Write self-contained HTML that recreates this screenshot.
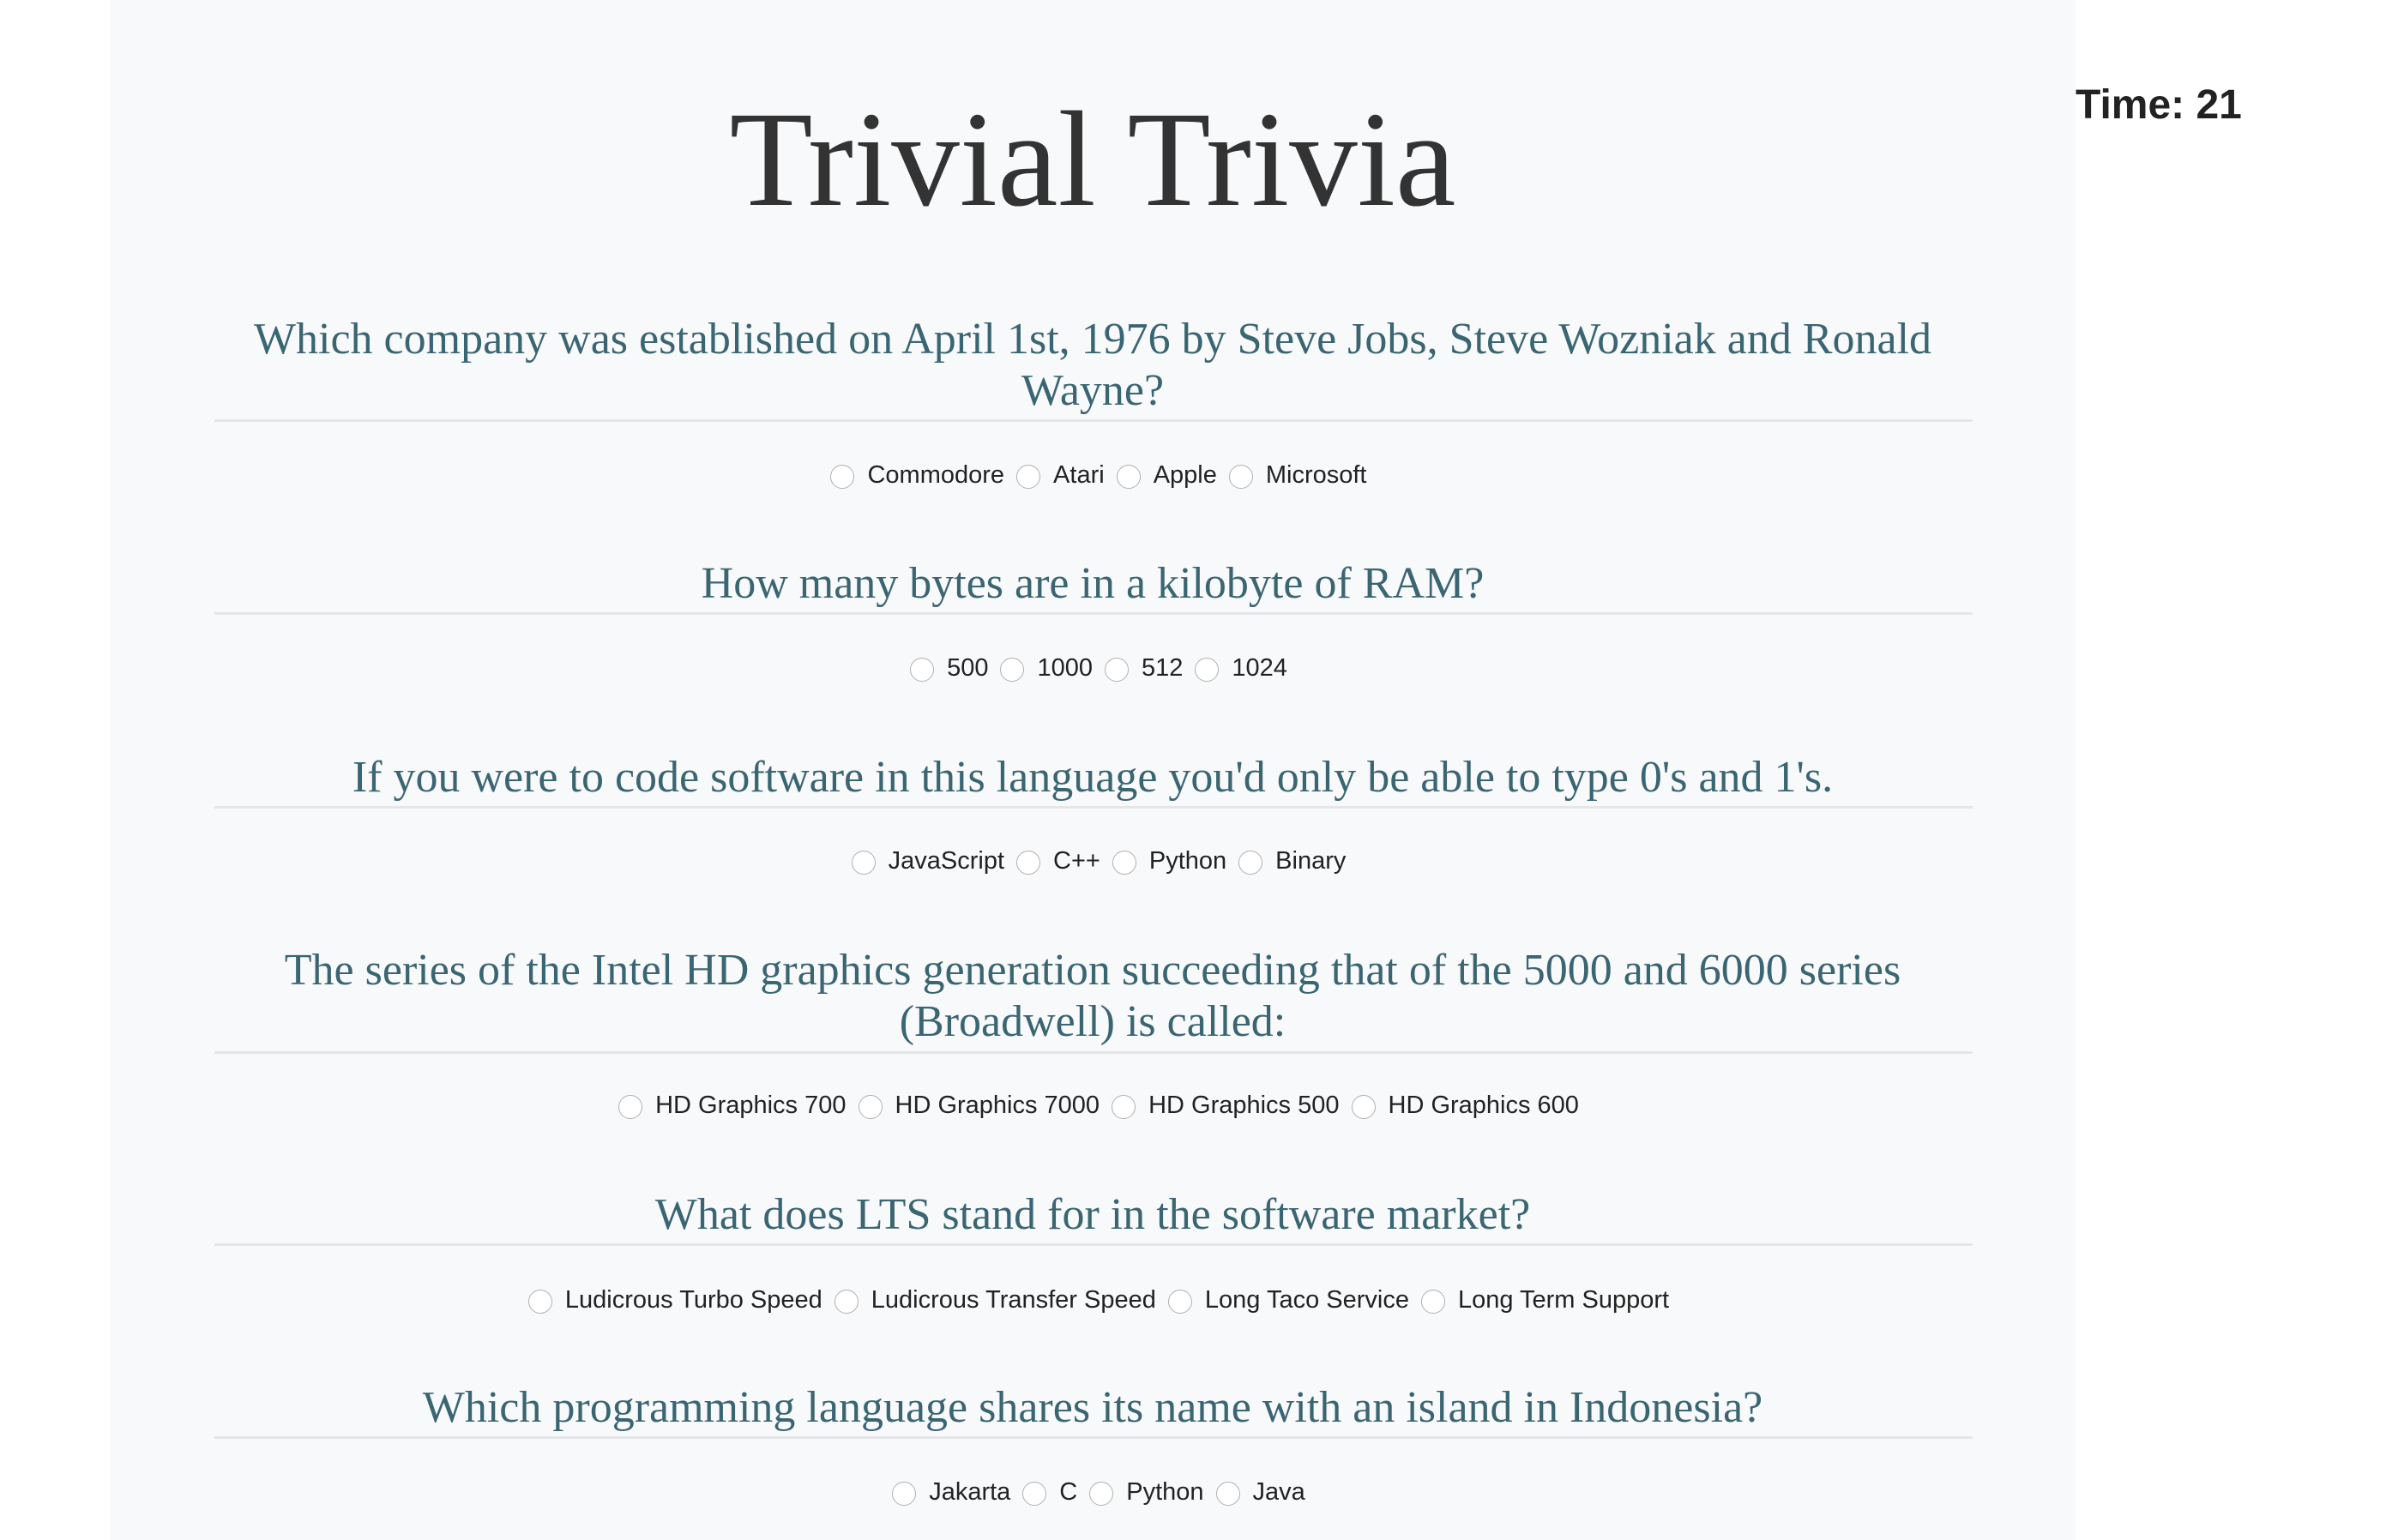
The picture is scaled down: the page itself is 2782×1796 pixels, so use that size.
<!DOCTYPE html>
<html><head><meta charset="utf-8"><style>
html,body{margin:0;padding:0;background:#fff;width:2782px;height:1796px;overflow:hidden;position:relative}
#wrap{position:absolute;left:128px;top:0;width:2292px;height:1796px;background:#f8f9fa}
.t{position:absolute;left:0;width:100%;text-align:center;white-space:nowrap}
#title{font-family:"Liberation Serif",serif;font-size:159px;color:#333;line-height:160px;top:106px}
.q{font-family:"Liberation Serif",serif;font-size:52px;color:#3a6572;line-height:60px}
.hr{position:absolute;left:122px;width:2050px;height:3px;background:#e4e6e8}
.opts{font-family:"Liberation Sans",sans-serif;font-size:29px;color:#222;line-height:40px}
.r{display:inline-block;width:28px;height:28px;border:1.5px solid #b0b0b0;border-radius:50%;background:#fff;vertical-align:-7px;margin:0 15px 0 14px;box-sizing:border-box}
#time{position:absolute;left:2420px;top:95px;font-family:"Liberation Sans",sans-serif;font-weight:bold;font-size:48px;color:#222;line-height:56px}
</style></head><body>
<div id="wrap">
<div class="t" id="title">Trivial Trivia</div>

<div class="t q" style="top:366px">Which company was established on April 1st, 1976 by Steve Jobs, Steve Wozniak and Ronald<br>Wayne?</div>
<div class="hr" style="top:489px"></div>
<div class="t opts" style="top:534px"><span class="r"></span>Commodore<span class="r"></span>Atari<span class="r"></span>Apple<span class="r"></span>Microsoft</div>

<div class="t q" style="top:651px">How many bytes are in a kilobyte of RAM?</div>
<div class="hr" style="top:714px"></div>
<div class="t opts" style="top:759px"><span class="r"></span>500<span class="r"></span>1000<span class="r"></span>512<span class="r"></span>1024</div>

<div class="t q" style="top:877px">If you were to code software in this language you'd only be able to type 0's and 1's.</div>
<div class="hr" style="top:940px"></div>
<div class="t opts" style="top:984px"><span class="r"></span>JavaScript<span class="r"></span>C++<span class="r"></span>Python<span class="r"></span>Binary</div>

<div class="t q" style="top:1102px">The series of the Intel HD graphics generation succeeding that of the 5000 and 6000 series<br>(Broadwell) is called:</div>
<div class="hr" style="top:1226px"></div>
<div class="t opts" style="top:1269px"><span class="r"></span>HD Graphics 700<span class="r"></span>HD Graphics 7000<span class="r"></span>HD Graphics 500<span class="r"></span>HD Graphics 600</div>

<div class="t q" style="top:1387px">What does LTS stand for in the software market?</div>
<div class="hr" style="top:1450px"></div>
<div class="t opts" style="top:1496px"><span class="r"></span>Ludicrous Turbo Speed<span class="r"></span>Ludicrous Transfer Speed<span class="r"></span>Long Taco Service<span class="r"></span>Long Term Support</div>

<div class="t q" style="top:1612px">Which programming language shares its name with an island in Indonesia?</div>
<div class="hr" style="top:1675px"></div>
<div class="t opts" style="top:1720px"><span class="r"></span>Jakarta<span class="r"></span>C<span class="r"></span>Python<span class="r"></span>Java</div>
</div>
<div id="time">Time: 21</div>
</body></html>
